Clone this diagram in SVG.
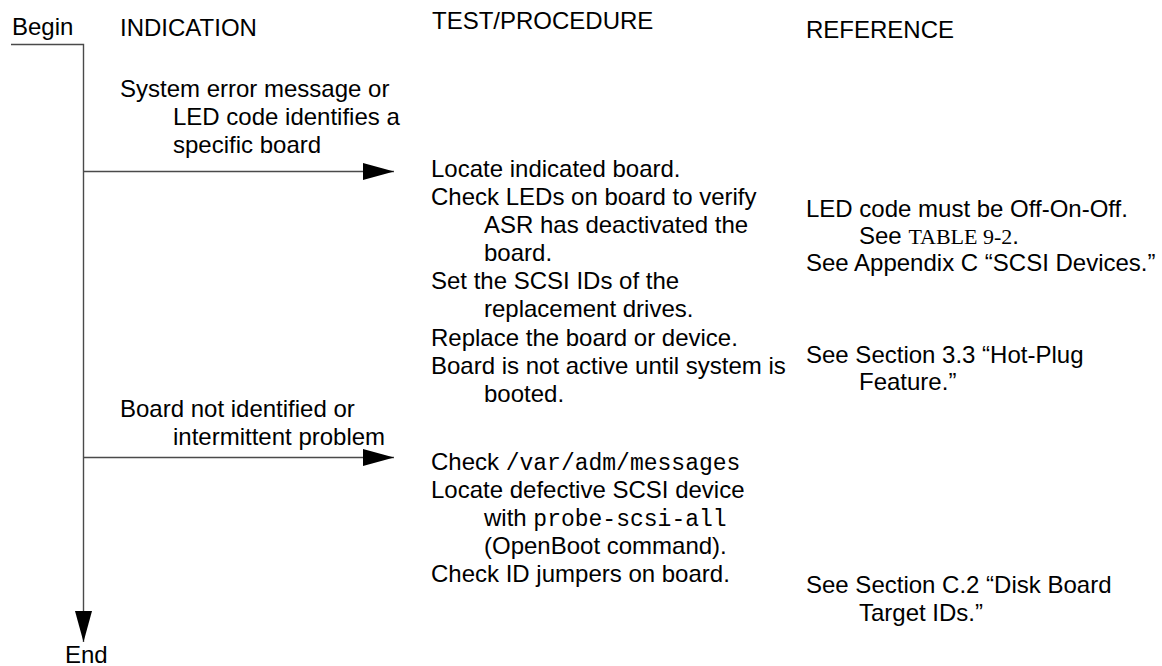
<svg xmlns="http://www.w3.org/2000/svg" width="1162" height="666" viewBox="0 0 1162 666">
<style>
  text { font-family: "Liberation Sans", Arial, sans-serif; font-size: 24px; fill: #000; }
  .mono { font-family: "Liberation Mono", "Courier New", monospace; font-size: 23px; }
  .serif { font-family: "Liberation Serif", "Times New Roman", serif; font-size: 22px; }
  .wire { fill: none; stroke: #4a4a4a; stroke-width: 1.4; }
</style>
<defs>
  <marker id="arrow" viewBox="0 0 31 17" refX="31" refY="8.5" markerWidth="31" markerHeight="17" markerUnits="userSpaceOnUse" orient="auto">
    <path d="M0,0 L31,8.5 L0,17 Z" fill="#000"/>
  </marker>
</defs>
<rect width="1162" height="666" fill="#fff"/>

<g id="connectors">
  <path class="wire" d="M11,44.5 H83.5 V642" marker-end="url(#arrow)"/>
  <path class="wire" d="M83.5,171.5 H394" marker-end="url(#arrow)"/>
  <path class="wire" d="M83.5,457.5 H394" marker-end="url(#arrow)"/>
</g>

<g id="begin"><text x="12" y="35">Begin</text></g>
<g id="end"><text x="65" y="663">End</text></g>

<g id="headers">
  <text x="120" y="36">INDICATION</text>
  <text x="432" y="29">TEST/PROCEDURE</text>
  <text x="806" y="38">REFERENCE</text>
</g>

<g id="indication-1">
  <text x="120" y="97">System error message or</text>
  <text x="173" y="125">LED code identifies a</text>
  <text x="173" y="153">specific board</text>
</g>

<g id="procedure-1">
  <text x="431" y="177">Locate indicated board.</text>
  <text x="431" y="205">Check LEDs on board to verify</text>
  <text x="484" y="233">ASR has deactivated the</text>
  <text x="484" y="261">board.</text>
  <text x="431" y="289">Set the SCSI IDs of the</text>
  <text x="484" y="317">replacement drives.</text>
  <text x="431" y="346">Replace the board or device.</text>
  <text x="431" y="374">Board is not active until system is</text>
  <text x="484" y="402">booted.</text>
</g>

<g id="reference-1">
  <text x="806" y="217">LED code must be Off-On-Off.</text>
  <text x="859" y="244">See <tspan class="serif">TABLE 9-2</tspan>.</text>
  <text x="806" y="271">See Appendix C “SCSI Devices.”</text>
  <text x="806" y="363">See Section 3.3 “Hot-Plug</text>
  <text x="859" y="390">Feature.”</text>
</g>

<g id="indication-2">
  <text x="120" y="417">Board not identified or</text>
  <text x="173" y="445">intermittent problem</text>
</g>

<g id="procedure-2">
  <text x="431" y="470">Check <tspan class="mono">/var/adm/messages</tspan></text>
  <text x="431" y="498">Locate defective SCSI device</text>
  <text x="484" y="526">with <tspan class="mono">probe-scsi-all</tspan></text>
  <text x="484" y="554">(OpenBoot command).</text>
  <text x="431" y="582">Check ID jumpers on board.</text>
</g>

<g id="reference-2">
  <text x="806" y="593">See Section C.2 “Disk Board</text>
  <text x="859" y="621">Target IDs.”</text>
</g>
</svg>
